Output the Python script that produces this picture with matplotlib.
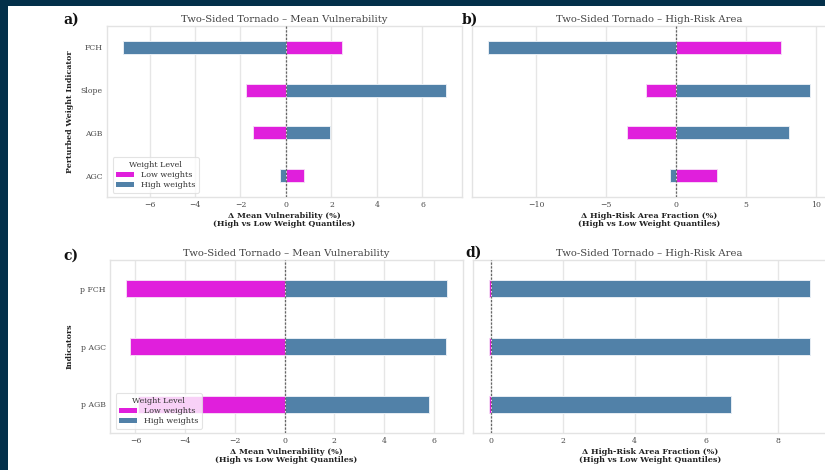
import matplotlib
matplotlib.use("Agg")
import matplotlib.pyplot as plt
from matplotlib.patches import Rectangle, Patch
import numpy as np

plt.rcParams['font.family'] = 'serif'
plt.rcParams['font.serif'] = ['DejaVu Serif']

# ---- data ----
cats_top = ["FCH", "Slope", "AGB", "AGC"]
a_low = [2.47, -1.75, -1.43, 0.81]
a_high = [-7.16, 7.03, 1.95, -0.28]
b_low = [7.54, -2.13, -3.49, 2.93]
b_high = [-13.46, 9.61, 8.06, -0.43]

cats_bot = ["p FCH", "p AGC", "p AGB"]
c_low = [-6.38, -6.22, -5.91]
c_high = [6.54, 6.49, 5.82]
d_low = [-0.06, -0.06, -0.06]
d_high = [8.89, 8.91, 6.68]

titles = ["Two-Sided Tornado \u2013 Mean Vulnerability",
          "Two-Sided Tornado \u2013 High-Risk Area",
          "Two-Sided Tornado \u2013 Mean Vulnerability",
          "Two-Sided Tornado \u2013 High-Risk Area"]
xlabels = ["\u0394 Mean Vulnerability (%)\n(High vs Low Weight Quantiles)",
           "\u0394 High-Risk Area Fraction (%)\n(High vs Low Weight Quantiles)",
           "\u0394 Mean Vulnerability (%)\n(High vs Low Weight Quantiles)",
           "\u0394 High-Risk Area Fraction (%)\n(High vs Low Weight Quantiles)"]
panel = ["a)", "b)", "c)", "d)"]

LOW_C = "#e01fdc"
HIGH_C = "#5181a8"
BG = "#03304a"

W, H = 825, 470
fig = plt.figure(figsize=(W / 100, H / 100), dpi=100, facecolor=BG)
fig.patches.append(Rectangle((8 / W, 0), 1 - 8 / W, 1 - 6 / H, transform=fig.transFigure,
                             facecolor="white", edgecolor="none", zorder=-10))

def px(l, r, t, b):
    return [l / W, 1 - b / H, (r - l) / W, (b - t) / H]

boxes = [px(107, 462, 26, 197), px(471.6, 826.3, 26, 197),
         px(110, 463, 260, 433), px(473, 826.5, 260, 433)]
data = [(cats_top, a_low, a_high), (cats_top, b_low, b_high),
        (cats_bot, c_low, c_high), (cats_bot, d_low, d_high)]
panel_pos = [(63, 20), (462, 20), (63, 256), (465, 253)]

for i in range(4):
    ax = fig.add_axes(boxes[i])
    cats, lo, hi = data[i]
    y = np.arange(len(cats))
    ax.barh(y, hi, height=0.3, color=HIGH_C, edgecolor="#e6edf4", linewidth=0.7, zorder=2)
    ax.barh(y, lo, height=0.3, color=LOW_C, edgecolor="#f6d8f6", linewidth=0.7, zorder=2)
    ax.axvline(0, color="#666666", linestyle=(0, (1.8, 1.2)), linewidth=0.9, zorder=3)
    ax.set_ylim(len(cats) - 0.5, -0.5)
    ax.set_yticks(y)
    if i in (0, 2):
        ax.set_yticklabels(cats)
    else:
        ax.set_yticklabels([])
    ax.set_facecolor("white")
    ax.grid(axis="x", color="#e6e6e6", linewidth=1.0, zorder=0)
    ax.grid(axis="y", visible=False)
    ax.set_axisbelow(True)
    for s in ax.spines.values():
        s.set_color("#e3e3e3")
        s.set_linewidth(1.0)
    ax.tick_params(length=0, labelsize=5.6, colors="#4a4a4a", pad=3)
    ax.set_title(titles[i], fontsize=7.2, color="#444444", pad=3)
    ax.set_xlabel(xlabels[i], fontsize=5.8, fontweight="bold", color="#222222",
                  labelpad=2, linespacing=1.05)
    if i == 0:
        ax.set_ylabel("Perturbed Weight Indicator", fontsize=5.7, fontweight="bold",
                      color="#222222", labelpad=5)
    if i == 2:
        ax.set_ylabel("Indicators", fontsize=5.7, fontweight="bold",
                      color="#222222", labelpad=5)
    if i in (0, 2):
        handles = [Patch(facecolor=LOW_C, label="Low weights"),
                   Patch(facecolor=HIGH_C, label="High weights")]
        leg = ax.legend(handles=handles, title="Weight Level", loc="lower left",
                        fontsize=5.8, title_fontsize=5.8, frameon=True,
                        borderpad=0.45, handlelength=2.2, handleheight=0.6,
                        labelspacing=0.3, handletextpad=0.8,
                        bbox_to_anchor=(0.005, 0.0))
        leg.get_frame().set_edgecolor("#dddddd")
        leg.get_frame().set_linewidth(0.8)
        leg.get_frame().set_alpha(0.8)
        for t in leg.get_texts():
            t.set_color("#333333")
        leg.get_title().set_color("#333333")
    fig.text(panel_pos[i][0] / W, 1 - panel_pos[i][1] / H, panel[i], fontsize=10,
             fontweight="bold", color="#111111", ha="left", va="center")

fig.savefig("out.png", dpi=100, facecolor=BG)
